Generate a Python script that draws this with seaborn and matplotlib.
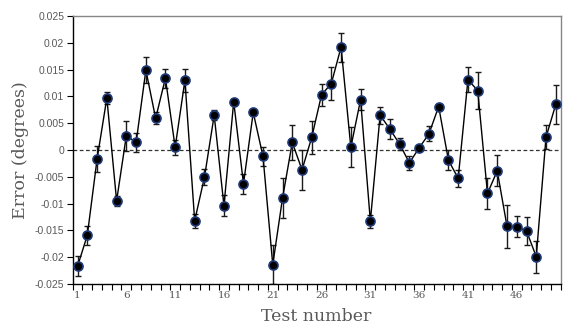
import numpy as np
import pandas as pd
import seaborn as sns
import matplotlib.pyplot as plt

# Values
test_number = list(range(1, 51))
error_deg = [-0.0217, -0.0159, -0.0017, 0.0097, -0.0095, 0.0027, 0.0014, 0.0149, 0.0059, 0.0134,
             0.0005, 0.0130, -0.0132, -0.0051, 0.0065, -0.0104, 0.0090, -0.0063, 0.0070, -0.0012,
             -0.0214, -0.0090, 0.0014, -0.0037, 0.0024, 0.0103, 0.0124, 0.0192, 0.0005, 0.0094,
             -0.0133, 0.0065, 0.0039, 0.0011, -0.0024, 0.0004, 0.0030, 0.0081, -0.0019, -0.0053,
             0.0131, 0.0111, -0.0081, -0.0039, -0.0142, -0.0143, -0.0151, -0.0199, 0.0024, 0.0085]
error_bar = [0.0019, 0.0018, 0.0024, 0.0012, 0.0010, 0.0028, 0.0017, 0.0024, 0.0011, 0.0018,
             0.0014, 0.0022, 0.0013, 0.0015, 0.0009, 0.0020, 0.0004, 0.0019, 0.0004, 0.0017,
             0.0036, 0.0037, 0.0032, 0.0037, 0.0031, 0.0021, 0.0030, 0.0027, 0.0037, 0.0020,
             0.0012, 0.0016, 0.0018, 0.0011, 0.0013, 0.0003, 0.0014, 0.0004, 0.0019, 0.0016,
             0.0023, 0.0034, 0.0029, 0.0029, 0.0040, 0.0020, 0.0026, 0.0030, 0.0022, 0.0037]
x_labels = [1, 6, 11, 16, 21, 26, 31, 36, 41, 46]

df = pd.DataFrame({"test": test_number, "error": error_deg, "err": error_bar})

sns.set_style("white")
fig = plt.figure(figsize=(5.81, 3.32), dpi=100)
ax = fig.add_axes([0.1251, 0.1446, 0.8399, 0.8072])

## error bars first, then line with markers on top
ax.errorbar(df["test"], df["error"], yerr=df["err"], fmt="none", ecolor="#1a1a1a",
            elinewidth=1.0, capsize=2, capthick=1.0, zorder=2)
sns.lineplot(data=df, x="test", y="error", ax=ax, color="black", linewidth=1.0,
             marker="o", markersize=6.5, markerfacecolor="black", markeredgecolor="#1f3a78",
             markeredgewidth=1.2, zorder=3)
ax.axhline(0, color="#333333", linestyle=(0, (3, 2)), linewidth=0.9, zorder=1)

ax.set_xlim(0.5, 50.5)
ax.set_ylim(-0.025, 0.025)
ax.set_yticks(np.arange(-0.025, 0.0251, 0.005))
ax.set_yticklabels(["-0.025", "-0.02", "-0.015", "-0.01", "-0.005", "0", "0.005", "0.01",
                    "0.015", "0.02", "0.025"], fontsize=7.5, color="#595959",
                   family="Liberation Sans")
ax.set_xticks(x_labels)
ax.set_xticklabels([str(v) for v in x_labels], fontsize=7.5, color="#595959",
                   family="DejaVu Serif")
ax.set_xticks(np.arange(0.5, 51, 1), minor=True)
ax.tick_params(axis="x", which="major", bottom=True, length=0, pad=5)
ax.tick_params(axis="x", which="minor", bottom=True, length=4, width=0.8, direction="out", color="black")
ax.tick_params(axis="y", left=True, length=4, width=0.8, direction="out", color="black", pad=2)

ax.set_xlabel("Test number", fontsize=12.5, color="#595959", family="DejaVu Serif", labelpad=6)
ax.set_ylabel("Error (degrees)", fontsize=12.5, color="#595959", family="DejaVu Serif", labelpad=4)

for side in ["top", "right"]:
    ax.spines[side].set_color("#868686")
    ax.spines[side].set_linewidth(1.0)
for side in ["left", "bottom"]:
    ax.spines[side].set_color("black")
    ax.spines[side].set_linewidth(1.0)

fig.savefig("out.png", dpi=100)
